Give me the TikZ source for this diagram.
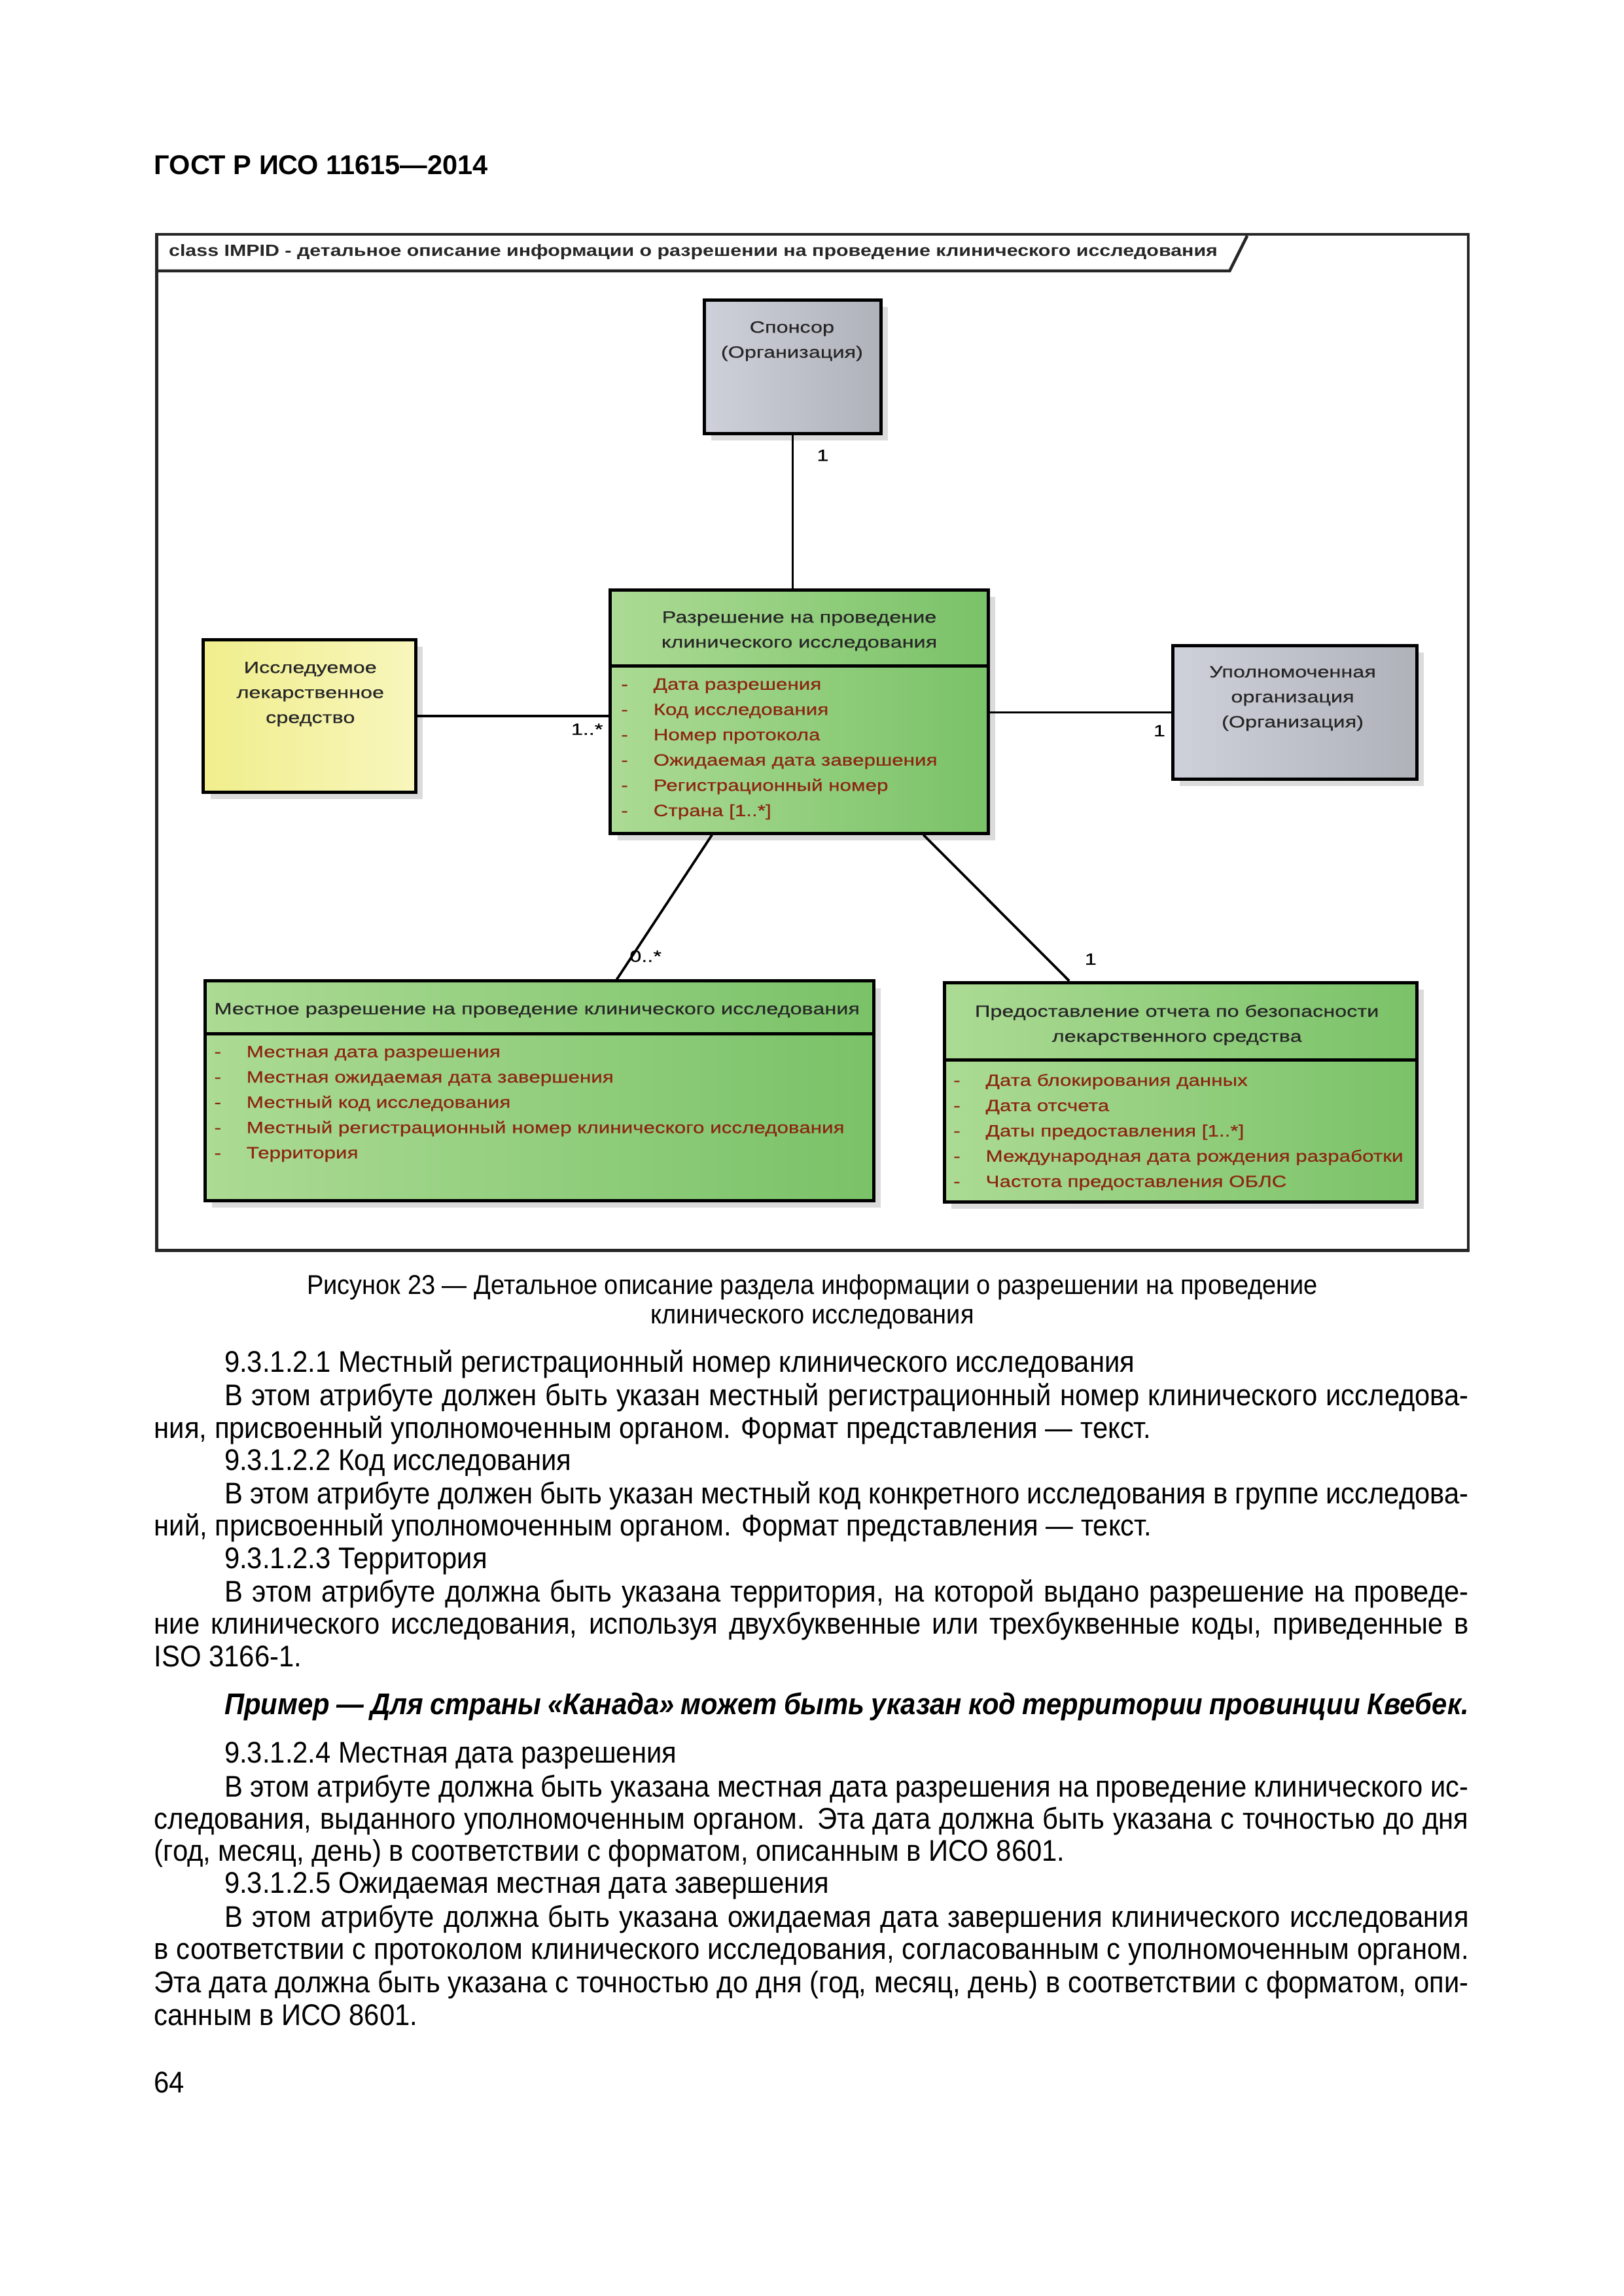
\documentclass[tikz,border=0pt]{standalone}
\usepackage{fontspec}
\setmainfont{Liberation Sans}
\newfontfamily\bodyfont[FakeStretch=0.915]{Liberation Sans}
\newfontfamily\umlfont[FakeStretch=1.3,FakeBold=0.5]{Liberation Sans}
\newfontfamily\attrfont[FakeStretch=1.26,FakeBold=0.6]{Liberation Sans}
\newfontfamily\titlefont[FakeStretch=1.22]{Liberation Sans}
\usetikzlibrary{positioning,calc,fit,shadows}

\definecolor{umlgreenL}{RGB}{172,219,148}
\definecolor{umlgreenR}{RGB}{122,194,104}
\definecolor{umlgrayL}{RGB}{206,209,218}
\definecolor{umlgrayR}{RGB}{176,178,186}
\definecolor{umlyellowL}{RGB}{240,238,140}
\definecolor{umlyellowR}{RGB}{248,246,188}
\definecolor{attrred}{RGB}{140,38,18}

\newcommand\jfull[1]{\makebox[17.005cm][s]{#1}}
\newcommand\jind[1]{\makebox[16.096cm][s]{#1}}
\newcommand\attr[1]{\makebox[0.417cm][l]{-}#1}

\tikzset{
  classbox/.style={draw=black,line width=1.2pt,inner sep=0pt,
    drop shadow={shadow xshift=0.9mm,shadow yshift=-0.9mm,opacity=0.28}},
  greenbox/.style={classbox,left color=umlgreenL,right color=umlgreenR},
  graybox/.style={classbox,left color=umlgrayL,right color=umlgrayR},
  yellowbox/.style={classbox,left color=umlyellowL,right color=umlyellowR},
  classname/.style={font=\umlfont\fontsize{6}{9.2}\selectfont,text=black!85,align=center,inner sep=0pt},
  attrlist/.style={font=\attrfont\fontsize{6}{9.3}\selectfont,text=attrred,align=left,inner sep=0pt,anchor=north west},
  mult/.style={font=\umlfont\fontsize{6}{7}\selectfont,inner sep=0pt},
  assoc/.style={line width=0.9pt},
  frame/.style={line width=1.1pt,draw=black!85},
  bodytext/.style={font=\bodyfont\fontsize{11}{12}\selectfont,inner sep=0pt,anchor=base west},
  captext/.style={font=\bodyfont\fontsize{10}{12}\selectfont,inner sep=0pt,anchor=base},
}

\begin{document}
\begin{tikzpicture}[x=0.018936cm,y=-0.018936cm]
  \useasboundingbox (0,0) rectangle (1109,1568);
  \fill[white] (0,0) rectangle (1109,1568);

  % page header
  \node[bodytext,font=\fontsize{10}{12}\selectfont\bfseries] (gost) at (105,119) {ГОСТ Р ИСО 11615—2014};

  % diagram frame
  \draw[frame] (107,160) rectangle (1003,854);
  \draw[frame] (107,185) -- (840,185) -- (852,161);
  \node[anchor=west,inner sep=0pt,font=\titlefont\fontsize{6}{7}\selectfont\bfseries,text=black!85] (frametitle) at (115,172)
    {class IMPID - детальное описание информации о разрешении на проведение клинического исследования};

  % classes
  \node[graybox,fit={(481,205) (602,296)}] (sponsor) {};
  \node[classname] (sponsortxt) at (541,233) {Спонсор\\(Организация)};

  \node[yellowbox,fit={(139,437) (284,541)}] (drug) {};
  \node[classname] (drugtxt) at (212,474) {Исследуемое\\лекарственное\\средство};

  \node[graybox,fit={(801,441) (968,532)}] (authority) {};
  \node[classname] (authoritytxt) at (883,477) {Уполномоченная\\организация\\(Организация)};

  \node[greenbox,fit={(417,403) (675,455)}] (permit) {};
  \node[greenbox,fit={(417,455) (675,569)}] (permitattr) {};
  \node[classname] (permittxt) at (546,431) {Разрешение на проведение\\клинического исследования};
  \node[attrlist] (permitlist) at (424,463) {\attr{Дата разрешения}\\\attr{Код исследования}\\\attr{Номер протокола}\\
    \attr{Ожидаемая дата завершения}\\\attr{Регистрационный номер}\\\attr{Страна [1..*]}};

  \node[greenbox,fit={(140,670) (597,706)}] (localhead) {};
  \node[greenbox,fit={(140,706) (597,820)}] (localattr) {};
  \node[classname,anchor=west] (localtxt) at (146,690) {Местное разрешение на проведение клинического исследования};
  \node[attrlist] (locallist) at (146,714) {\attr{Местная дата разрешения}\\\attr{Местная ожидаемая дата завершения}\\
    \attr{Местный код исследования}\\\attr{Местный регистрационный номер клинического исследования}\\\attr{Территория}};

  \node[greenbox,fit={(645,671) (968,724)}] (psurhead) {};
  \node[greenbox,fit={(645,724) (968,821)}] (psurattr) {};
  \node[classname] (psurtxt) at (804,700) {Предоставление отчета по безопасности\\лекарственного средства};
  \node[attrlist] (psurlist) at (651,733) {\attr{Дата блокирования данных}\\\attr{Дата отсчета}\\\attr{Даты предоставления [1..*]}\\
    \attr{Международная дата рождения разработки}\\\attr{Частота предоставления ОБЛС}};

  % associations
  \draw[assoc] (sponsor.south) -- (sponsor.south |- permit.north);
  \draw[assoc] (drug.east) -- (drug.east -| permitattr.west);
  \draw[assoc] (authority.west) -- (authority.west -| permitattr.east);
  \draw[assoc] ($(permitattr.south west)!0.271!(permitattr.south east)$) -- ($(localhead.north west)!0.615!(localhead.north east)$);
  \draw[assoc] ($(permitattr.south west)!0.826!(permitattr.south east)$) -- ($(psurhead.north west)!0.266!(psurhead.north east)$);

  \node[mult] (m1) at (562,311) {1};
  \node[mult] (m2) at (401,498) {1..*};
  \node[mult] (m3) at (792,499) {1};
  \node[mult] (m4) at (441,653) {0..*};
  \node[mult] (m5) at (745,655) {1};

  % caption
  \node[captext] (cap1) at (555,884) {Рисунок 23 — Детальное описание раздела информации о разрешении на проведение};
  \node[captext] (cap2) at (555,904) {клинического исследования};

  % body text
  \node[bodytext] (t1) at (153,937) {9.3.1.2.1 Местный регистрационный номер клинического исследования};
  \node[bodytext] (t2) at (153,960) {\jind{В этом атрибуте должен быть указан местный регистрационный номер клинического исследова-}};
  \node[bodytext] (t3) at (105,982) {ния, присвоенный уполномоченным органом. Формат представления — текст.};
  \node[bodytext] (t4) at (153,1004) {9.3.1.2.2 Код исследования};
  \node[bodytext] (t5) at (153,1027) {\jind{В этом атрибуте должен быть указан местный код конкретного исследования в группе исследова-}};
  \node[bodytext] (t6) at (105,1049) {ний, присвоенный уполномоченным органом. Формат представления — текст.};
  \node[bodytext] (t7) at (153,1071) {9.3.1.2.3 Территория};
  \node[bodytext] (t8) at (153,1094) {\jind{В этом атрибуте должна быть указана территория, на которой выдано разрешение на проведе-}};
  \node[bodytext] (t9) at (105,1116) {\jfull{ние клинического исследования, используя двухбуквенные или трехбуквенные коды, приведенные в}};
  \node[bodytext] (t10) at (105,1138) {ISO 3166-1.};
  \node[bodytext,font=\bodyfont\fontsize{11}{12}\selectfont\bfseries\itshape] (t11) at (153,1171)
    {\jind{Пример — Для страны «Канада» может быть указан код территории провинции Квебек.}};
  \node[bodytext] (t12) at (153,1204) {9.3.1.2.4 Местная дата разрешения};
  \node[bodytext] (t13) at (153,1227) {\jind{В этом атрибуте должна быть указана местная дата разрешения на проведение клинического ис-}};
  \node[bodytext] (t14) at (105,1249) {\jfull{следования, выданного уполномоченным органом. Эта дата должна быть указана с точностью до дня}};
  \node[bodytext] (t15) at (105,1271) {(год, месяц, день) в соответствии с форматом, описанным в ИСО 8601.};
  \node[bodytext] (t16) at (153,1293) {9.3.1.2.5 Ожидаемая местная дата завершения};
  \node[bodytext] (t17) at (153,1316) {\jind{В этом атрибуте должна быть указана ожидаемая дата завершения клинического исследования}};
  \node[bodytext] (t18) at (105,1338) {\jfull{в соответствии с протоколом клинического исследования, согласованным с уполномоченным органом.}};
  \node[bodytext] (t19) at (105,1361) {\jfull{Эта дата должна быть указана с точностью до дня (год, месяц, день) в соответствии с форматом, опи-}};
  \node[bodytext] (t20) at (105,1383) {санным в ИСО 8601.};
  \node[bodytext] (pagenum) at (105,1429) {64};
\end{tikzpicture}
\end{document}
